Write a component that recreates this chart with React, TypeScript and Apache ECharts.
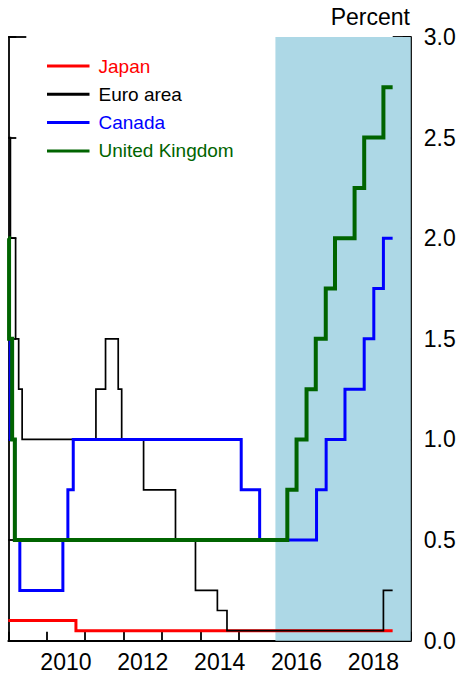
import React, { useEffect, useRef } from "react";
import * as echarts from "echarts";

// Decimal-year dates of each rate change; each rate holds until the next date.
const japanDates = [2009.0, 2010.76, 2019.0];
const japanRates = [0.1, 0.05, 0.05];

const euroDates = [2009.0, 2009.055, 2009.19, 2009.27, 2009.36, 2011.28, 2011.53, 2011.86, 2011.95, 2012.52, 2013.35, 2013.87, 2014.44, 2014.69, 2018.76, 2019.0];
const euroRates = [2.5, 2.0, 1.5, 1.25, 1.0, 1.25, 1.5, 1.25, 1.0, 0.75, 0.5, 0.25, 0.15, 0.05, 0.25, 0.25];

const canadaDates = [2009.0, 2009.05, 2009.17, 2009.3, 2010.42, 2010.55, 2010.69, 2015.06, 2015.54, 2017.02, 2017.27, 2017.76, 2018.26, 2018.51, 2018.76, 2019.0];
const canadaRates = [1.5, 1.0, 0.5, 0.25, 0.5, 0.75, 1.0, 0.75, 0.5, 0.75, 1.0, 1.25, 1.5, 1.75, 2.0, 2.0];

const ukDates = [2009.0, 2009.02, 2009.1, 2009.17, 2016.26, 2016.5, 2016.76, 2017.0, 2017.26, 2017.5, 2018.01, 2018.26, 2018.76, 2019.0];
const ukRates = [2.0, 1.5, 1.0, 0.5, 0.75, 1.0, 1.25, 1.5, 1.75, 2.0, 2.25, 2.5, 2.75, 2.75];

const shadeStart = 2015.95;
const xMin = 2009;
const xMax = 2019.47;
const labelYears = [2010, 2012, 2014, 2016, 2018];
const yTicks = [0, 0.5, 1, 1.5, 2, 2.5, 3];

const seriesNames = ["Japan", "Euro area", "Canada", "United Kingdom"];
const seriesColors = ["#ff0000", "#000000", "#0000ff", "#006400"];
const seriesWidths = [3, 1.7, 3, 4];

const FONT = "'Liberation Sans', Arial, Helvetica, sans-serif";

function zip(d: number[], r: number[]) {
  return d.map((x, i) => [x, r[i]]);
}

export default function App() {
  const ref = useRef<HTMLDivElement>(null);
  useEffect(() => {
    const chart = echarts.init(ref.current!, null, { renderer: "svg" });
    const datasets = [
      zip(japanDates, japanRates),
      zip(euroDates, euroRates),
      zip(canadaDates, canadaRates),
      zip(ukDates, ukRates),
    ];
    const axisLineStyle = { color: "#000", width: 1.8 };
    const option: any = {
      animation: false,
      textStyle: { fontFamily: FONT },
      title: {
        text: "Percent",
        right: 50,
        top: 5,
        padding: 0,
        textStyle: { fontSize: 23, fontWeight: "normal", color: "#000", fontFamily: FONT },
      },
      legend: {
        orient: "vertical",
        left: 47,
        top: 56,
        padding: 0,
        itemGap: 8.3,
        itemWidth: 42.5,
        itemHeight: 3,
        icon: "rect",
        selectedMode: false,
        textStyle: { fontSize: 19, lineHeight: 20, fontFamily: FONT, padding: [0, 0, 0, 4] },
        data: seriesNames.map((n, i) => ({ name: n, textStyle: { color: seriesColors[i] } })),
      },
      grid: { left: 8.3, right: 49.3, top: 37, bottom: 34.3 },
      xAxis: {
        type: "value",
        min: xMin,
        max: xMax,
        interval: 1,
        axisLine: { show: true, lineStyle: axisLineStyle },
        axisTick: { show: true, inside: true, length: 9, lineStyle: axisLineStyle },
        axisLabel: {
          customValues: labelYears.map((y) => y + 0.5),
          formatter: (v: number) => String(Math.floor(v)),
          fontSize: 23,
          color: "#000",
          margin: 10,
          fontFamily: FONT,
        },
        splitLine: { show: false },
      },
      yAxis: [
        {
          type: "value",
          position: "left",
          min: 0,
          max: 3,
          interval: 0.5,
          axisLine: { show: true, lineStyle: axisLineStyle },
          axisTick: { show: true, inside: true, length: 8, lineStyle: axisLineStyle },
          axisLabel: { show: false },
          splitLine: { show: false },
        },
        {
          type: "value",
          position: "right",
          min: 0,
          max: 3,
          interval: 0.5,
          axisLine: { show: true, lineStyle: axisLineStyle },
          axisTick: { show: true, inside: true, length: 8, lineStyle: axisLineStyle },
          axisLabel: {
            show: true,
            customValues: yTicks,
            formatter: (v: number) => v.toFixed(1),
            fontSize: 23,
            color: "#000",
            margin: 13,
            fontFamily: FONT,
          },
          splitLine: { show: false },
        },
        {
          type: "value",
          position: "left",
          min: 0,
          max: 3,
          axisLine: { show: false },
          axisTick: { show: true, inside: true, length: 18, customValues: [3], lineStyle: axisLineStyle },
          axisLabel: { show: false },
          splitLine: { show: false },
        },
        {
          type: "value",
          position: "right",
          min: 0,
          max: 3,
          axisLine: { show: false },
          axisTick: { show: true, inside: true, length: 18, customValues: [3], lineStyle: axisLineStyle },
          axisLabel: { show: false },
          splitLine: { show: false },
        },
      ],
      series: [
        {
          name: "shade",
          type: "line",
          data: [],
          silent: true,
          markArea: {
            silent: true,
            itemStyle: { color: "#add8e6", opacity: 1 },
            data: [[{ xAxis: shadeStart }, { xAxis: xMax }]],
          },
        },
        ...seriesNames.map((n, i) => ({
          name: n,
          type: "line",
          step: "end",
          data: datasets[i],
          showSymbol: false,
          symbol: "none",
          color: seriesColors[i],
          lineStyle: { color: seriesColors[i], width: seriesWidths[i], cap: "butt", join: "miter" },
          z: 3 + i,
        })),
      ],
    };
    chart.setOption(option);
    return () => chart.dispose();
  }, []);
  return (
    <div
      ref={ref}
      style={{ position: "fixed", left: 0, top: 0, width: 460, height: 675, background: "#fff" }}
    />
  );
}
